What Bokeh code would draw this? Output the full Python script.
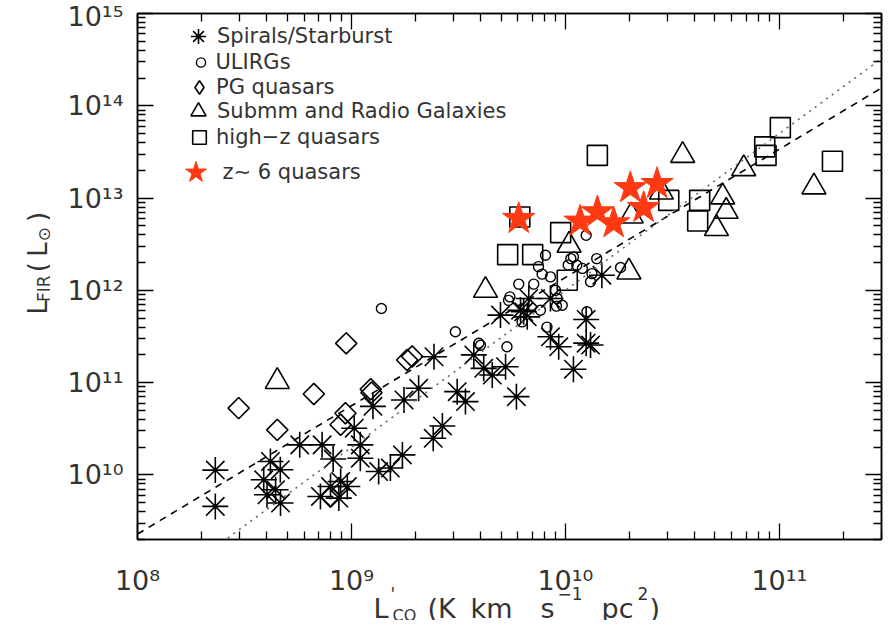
import math
from bokeh.plotting import figure
from bokeh.layouts import column, row
from bokeh.models import (LogAxis, FixedTicker, CustomJSTickFormatter, ColumnDataSource,
                          Legend, LegendItem, Range1d, LinearScale)
from bokeh.core.properties import value
from bokeh.embed import file_html
from bokeh.resources import INLINE

# ---------------- data (L'CO in K km/s pc^2, L_FIR in L_sun) ----------------
spiral_x = [2.31e8, 2.31e8, 3.89e8, 4.18e8, 4.65e8, 4.03e8, 4.42e8, 4.66e8, 5.73e8, 7.29e8,
            8.21e8, 7.16e8, 7.98e8, 8.9e8, 9.56e8, 8.73e8, 1.03e9, 1.1e9, 1.1e9, 1.26e9,
            1.34e9, 1.52e9, 1.73e9, 1.76e9, 2.06e9, 2.43e9, 2.41e9, 2.66e9, 3.12e9, 3.41e9,
            3.73e9, 4.15e9, 4.55e9, 5.25e9, 5.9e9, 4.97e9, 6.38e9, 6.17e9, 6.63e9, 6.74e9,
            8.51e9, 1.48e10, 1.25e10, 1.31e10, 1.25e10, 9.3e9, 8.51e9, 1.09e10]
spiral_y = [1.13e10, 4.57e9, 8.87e9, 1.4e10, 1.14e10, 6.1e9, 6.92e9, 4.97e9, 2.12e10, 2.12e10,
            1.49e10, 5.85e9, 7.5e9, 8.5e9, 7.5e9, 5.62e9, 3.21e10, 2.12e10, 1.52e10, 5.54e10,
            1.09e10, 1.19e10, 1.65e10, 6.5e10, 8.7e10, 1.91e11, 2.5e10, 3.4e10, 8.0e10, 6.24e10,
            2.0e11, 1.43e11, 1.21e11, 1.49e11, 7.06e10, 5.4e11, 5.86e11, 6.1e11, 5.17e11, 8.17e11,
            8.17e11, 1.46e12, 4.84e11, 2.56e11, 2.68e11, 2.45e11, 3.14e11, 1.4e11]

ulirg_x = [1.25e10, 8.07e9, 7.48e9, 7.78e9, 8.51e9, 1.06e10, 1.13e10, 1.2e10, 1.03e10, 1.4e10,
           1.81e10, 6.05e9, 7.11e9, 5.5e9, 8.98e9, 9.14e9, 9.66e9, 1.33e10, 1.31e10, 8.2e9,
           7.64e9, 6.27e9, 5.33e9, 1.26e10, 1.09e10, 4.01e9, 1.38e9, 3.06e9, 3.94e9, 5.42e9,
           9.08e9]
ulirg_y = [3.95e12, 2.4e12, 1.81e12, 1.5e12, 1.4e12, 2.21e12, 1.87e12, 1.73e12, 1.88e12, 2.21e12,
           1.77e12, 1.17e12, 1.17e12, 8.5e11, 1.0e12, 8.2e11, 6.9e11, 1.52e12, 1.24e12, 4.0e11,
           6.1e11, 4.56e11, 2.45e11, 5.86e11, 2.3e12, 2.54e11, 6.37e11, 3.56e11, 2.67e11, 7.8e11,
           6.75e11]

pg_x = [2.97e8, 4.5e8, 6.67e8, 9.45e8, 9.37e8, 8.9e8, 1.23e9, 1.24e9, 1.82e9, 1.92e9, 7.98e8]
pg_y = [5.3e10, 3.08e10, 7.55e10, 2.67e11, 4.67e10, 3.5e10, 8.5e10, 7.8e10, 1.76e11, 1.92e11, 5.85e9]

submm_x = [3.53e10, 6.81e10, 1.45e11, 2.81e10, 5.43e10, 2.03e10, 5.64e10, 5.08e10, 1.04e10,
           1.98e10, 4.23e9, 4.5e8]
submm_y = [2.9e13, 2.08e13, 1.32e13, 1.16e13, 1.03e13, 6.39e12, 7.18e12, 4.67e12, 3.08e12,
           1.58e12, 1.0e12, 1.03e11]

hiz_x = [1.41e10, 6.12e9, 9.5e9, 5.37e9, 7.03e9, 1.02e10, 3.04e10, 4.24e10, 4.15e10, 8.54e10,
         8.66e10, 1.01e11, 1.77e11]
hiz_y = [2.9e13, 6.24e12, 4.23e12, 2.44e12, 2.44e12, 1.29e12, 9.44e12, 9.44e12, 5.64e12, 3.59e13,
         2.9e13, 5.8e13, 2.51e13]

z6_x = [6.05e9, 1.17e10, 1.41e10, 1.68e10, 2.01e10, 2.32e10, 2.68e10]
z6_y = [5.98e12, 5.6e12, 7.06e12, 5.37e12, 1.29e13, 7.87e12, 1.43e13]

# fitted relations: log L_FIR = slope * log L'CO + intercept
fit_dashed = (1.39, -1.76)
fit_dotted = (1.70, -5.0)

x_major = [1e8, 1e9, 1e10, 1e11]
y_major = [1e10, 1e11, 1e12, 1e13, 1e14, 1e15]

legend_labels = ["Spirals/Starburst", "ULIRGs", "PG quasars",
                 "Submm and Radio Galaxies", "high\u2212z quasars", "z\u223c 6 quasars"]

# ---------------- geometry ----------------
FONT = "DejaVu Sans"
TXT = "#333333"
X0, X1 = 1e8, 3e11
Y0, Y1 = 2e9, 1e15
LEFT_STRIP = 50          # width of the strip holding the y title
FRAME_L, FRAME_W, FRAME_T, FRAME_H = 137, 744, 13, 526
MAIN_H = 545             # main figure height (frame bottom at 539)
STRIP_TOP = 555          # where the bottom strip starts on the page
W, H = 890, 630

SUP = {'0': '\u2070', '1': '\u00b9', '2': '\u00b2', '3': '\u00b3', '4': '\u2074',
       '5': '\u2075', '6': '\u2076', '7': '\u2077', '8': '\u2078', '9': '\u2079'}


def pow_label(v):
    e = int(round(math.log10(v)))
    return "10" + "".join(SUP[c] for c in str(e))


# ---------------- main figure ----------------
p = figure(x_axis_type="log", y_axis_type="log",
           x_range=Range1d(X0, X1), y_range=Range1d(Y0, Y1),
           frame_width=FRAME_W, frame_height=FRAME_H,
           min_border_left=FRAME_L - LEFT_STRIP, min_border_right=W - FRAME_L - FRAME_W,
           min_border_top=FRAME_T, min_border_bottom=MAIN_H - FRAME_T - FRAME_H,
           output_backend="svg", toolbar_location=None)
p.grid.visible = False
p.outline_line_color = "black"
p.outline_line_width = 1.5
p.background_fill_color = "white"
p.border_fill_color = "white"

x_minor = [k * 10 ** e for e in range(8, 12) for k in range(2, 10)]
y_minor = [k * 10 ** e for e in range(9, 15) for k in range(2, 10)]
sup_fmt = CustomJSTickFormatter(code="""
const sup = {'0':'\u2070','1':'\u00b9','2':'\u00b2','3':'\u00b3','4':'\u2074','5':'\u2075',
             '6':'\u2076','7':'\u2077','8':'\u2078','9':'\u2079','-':'\u207b'};
const e = Math.round(Math.log10(tick));
return '10' + String(e).split('').map(c => sup[c]).join('');
""")
blank_fmt = CustomJSTickFormatter(code="return '';")


def style_axis(ax, labels=True):
    ax.axis_line_color = "black"
    ax.axis_line_width = 1.5
    ax.major_tick_in = 16
    ax.major_tick_out = 0
    ax.minor_tick_in = 8
    ax.minor_tick_out = 0
    ax.major_tick_line_width = 1.3
    ax.minor_tick_line_width = 1.3
    ax.major_tick_line_color = "black"
    ax.minor_tick_line_color = "black"
    if labels:
        ax.formatter = sup_fmt
        ax.major_label_text_font = FONT
        ax.major_label_text_font_size = "27px"
        ax.major_label_text_color = TXT
    else:
        ax.formatter = blank_fmt
        ax.major_label_text_font_size = "0px"
        ax.major_label_standoff = 0


p.xaxis.ticker = FixedTicker(ticks=x_major, minor_ticks=x_minor)
p.yaxis.ticker = FixedTicker(ticks=y_major, minor_ticks=y_minor)
style_axis(p.xaxis[0], labels=False)   # x tick labels are drawn in the strip below
style_axis(p.yaxis[0])
p.yaxis[0].major_label_standoff = 14

top = LogAxis(ticker=FixedTicker(ticks=x_major, minor_ticks=x_minor))
right = LogAxis(ticker=FixedTicker(ticks=y_major, minor_ticks=y_minor))
style_axis(top, labels=False)
style_axis(right, labels=False)
p.add_layout(top, "above")
p.add_layout(right, "right")

# ---------------- glyphs ----------------
r_sp = p.scatter(spiral_x, spiral_y, marker="asterisk", size=26, line_color="black", line_width=1.6)
r_ul = p.scatter(ulirg_x, ulirg_y, marker="circle", size=10, fill_color=None,
                 line_color="black", line_width=1.4)
r_pg = p.scatter(pg_x, pg_y, marker="square", angle=math.pi / 4, size=15, fill_color=None,
                 line_color="black", line_width=1.6)
# legend key for the PG quasars (a diamond; it holds no data point)
r_pg_key = p.scatter([float("nan")], [float("nan")], marker="diamond", size=15,
                     fill_color=None, line_color="black", line_width=1.6)
r_sm = p.scatter(submm_x, submm_y, marker="triangle", size=24, fill_color=None,
                 line_color="black", line_width=1.6)
r_hz = p.scatter(hiz_x, hiz_y, marker="square", size=20, fill_color=None,
                 line_color="black", line_width=1.6)

lx = [X0, X1]
for (s, b), dash, col in [(fit_dashed, "7 6", "black"), (fit_dotted, "2 5", "#666666")]:
    ly = [10 ** (s * math.log10(v) + b) for v in lx]
    p.line(lx, ly, line_dash=dash, line_color=col, line_width=1.6)

r_z6 = p.scatter(z6_x, z6_y, marker="star", size=34, fill_color="#ff3a12",
                 line_color="#ff3a12", line_width=1)

# ---------------- legend (one block per entry) ----------------
# (renderer, centre y on canvas, centre x on canvas, glyph box width, label standoff)
leg_rows = [(r_sp, 36, 198, 38, 0), (r_ul, 62, 200, 23, 4), (r_pg_key, 87, 199, 34, 0),
            (r_sm, 111, 198, 38, 0), (r_hz, 137, 199, 34, 0), (r_z6, 172, 195, 55, 0)]
GH = 56
for (rend, yc, xc, gw, so), lab in zip(leg_rows, legend_labels):
    lg = Legend(items=[LegendItem(label=lab, renderers=[rend])],
                location=(xc - FRAME_L - gw / 2, FRAME_T + FRAME_H - yc - GH / 2),
                glyph_width=gw, glyph_height=GH, label_standoff=so,
                padding=0, margin=0, spacing=0, border_line_color=None,
                background_fill_alpha=0, label_text_font=FONT,
                label_text_font_size="21px", label_text_color=TXT)
    p.add_layout(lg)

# ---------------- left strip: y title (canvas pixel coordinates) ----------------
yf = figure(width=LEFT_STRIP, height=MAIN_H, x_range=Range1d(0, LEFT_STRIP),
            y_range=Range1d(MAIN_H, 0), min_border=0, x_axis_location=None,
            y_axis_location=None, output_backend="svg", toolbar_location=None)
yf.grid.visible = False
yf.outline_line_color = None
yf.background_fill_color = "white"
yf.border_fill_color = "white"
# (text, baseline x, start y, size) -- text runs upward
yt_pieces = [("L", 37, 312, 26), ("FIR", 43, 299, 17), ("(", 37, 268, 26),
             ("L", 37, 252, 26), ("\u2299", 43, 236, 17), (")", 37, 216, 26)]
ysrc = ColumnDataSource(dict(x=[t[1] for t in yt_pieces], y=[t[2] for t in yt_pieces],
                             text=[t[0] for t in yt_pieces],
                             size=[f"{t[3]}px" for t in yt_pieces]))
yf.text(x="x", y="y", text="text", source=ysrc, angle=math.pi / 2, text_font=value(FONT),
        text_font_size="size", text_color=TXT, text_baseline="alphabetic", text_align="left")

# ---------------- bottom strip: x tick labels and x title ----------------
decade_px = FRAME_W / (math.log10(X1) - math.log10(X0))
xf = figure(width=W, height=H - STRIP_TOP, x_axis_type="log",
            x_range=Range1d(X0 / 10 ** (FRAME_L / decade_px),
                            X1 * 10 ** ((W - FRAME_L - FRAME_W) / decade_px)),
            y_range=Range1d(H, STRIP_TOP), min_border=0,
            x_axis_location=None, y_axis_location=None,
            output_backend="svg", toolbar_location=None)
xf.extra_x_ranges = {"px": Range1d(0, W)}
xf.extra_x_scales = {"px": LinearScale()}
xf.grid.visible = False
xf.outline_line_color = None
xf.background_fill_color = "white"
xf.border_fill_color = "white"

tsrc = ColumnDataSource(dict(x=x_major, y=[590] * len(x_major),
                             text=[pow_label(v) for v in x_major]))
xf.text(x="x", y="y", text="text", source=tsrc, text_font=value(FONT),
        text_font_size="27px", text_color=TXT, text_baseline="alphabetic", text_align="center")

# (text, left x, baseline y, size)
xt_pieces = [("L", 373, 618, 27), ("'", 390, 603, 17), ("CO", 392, 625, 16),
             ("(K", 427, 618, 27), ("km", 470, 618, 27), ("s", 540, 618, 27),
             ("\u22121", 557, 603, 17), ("pc", 601, 618, 27), ("2", 637, 603, 17),
             (")", 649, 618, 27)]
xsrc = ColumnDataSource(dict(x=[t[1] for t in xt_pieces], y=[t[2] for t in xt_pieces],
                             text=[t[0] for t in xt_pieces],
                             size=[f"{t[3]}px" for t in xt_pieces]))
xf.text(x="x", y="y", text="text", source=xsrc, x_range_name="px", text_font=value(FONT),
        text_font_size="size", text_color=TXT, text_baseline="alphabetic", text_align="left")

layout = column(row(yf, p, spacing=0), xf, spacing=0)
open("out.html", "w").write(file_html(layout, INLINE))
